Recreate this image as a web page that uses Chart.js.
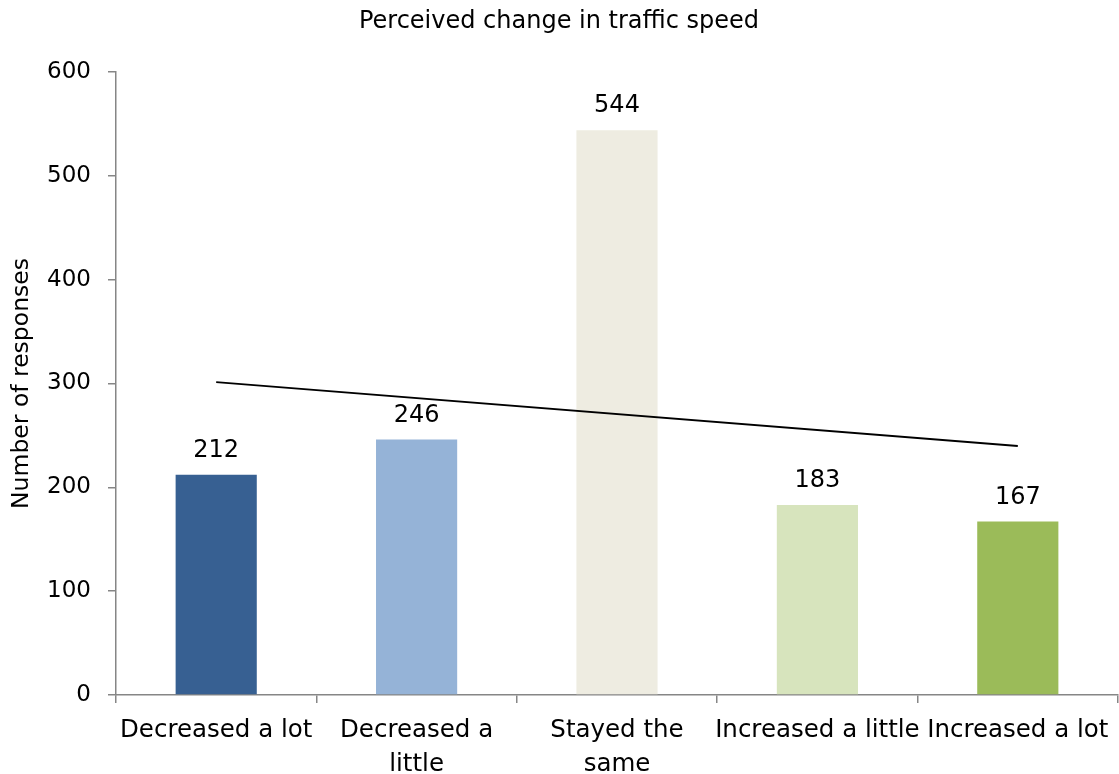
<!DOCTYPE html>
<html>
<head>
<meta charset="utf-8">
<script src="https://cdn.jsdelivr.net/npm/chart.js@4/dist/chart.umd.min.js"></script>
<style>
  html, body { margin: 0; padding: 0; background: #ffffff; }
  #wrap { width: 1119px; height: 774px; }
</style>
</head>
<body>
<div id="wrap"><canvas id="c" width="1119" height="774"></canvas></div>
<script>
const categories = [
  "Decreased a lot",
  ["Decreased a", "little"],
  ["Stayed the", "same"],
  "Increased a little",
  "Increased a lot"
];
const responses = [212, 246, 544, 183, 167];
const barColors = ["#376092", "#95B3D7", "#EEECE1", "#D7E4BD", "#9BBB59"];
// Trend line endpoints (first and last category)
const trendValues = [301.4, null, null, null, 239.8];
const yTicks = [0, 100, 200, 300, 400, 500, 600];

const FONT = "'DejaVu Sans', sans-serif";
const AXIS_GREY = "#868686";

const valueLabels = {
  id: "valueLabels",
  afterDatasetsDraw(chart) {
    const ctx = chart.ctx;
    const meta = chart.getDatasetMeta(0);
    ctx.save();
    ctx.font = "24px " + FONT;
    ctx.fillStyle = "#000000";
    ctx.textAlign = "center";
    ctx.textBaseline = "alphabetic";
    meta.data.forEach((bar, i) => {
      ctx.fillText(String(responses[i]), bar.x, bar.y - 18);
    });
    ctx.restore();
  }
};

new Chart(document.getElementById("c"), {
  data: {
    labels: categories,
    datasets: [
      {
        type: "bar",
        data: responses,
        backgroundColor: barColors,
        borderWidth: 0,
        categoryPercentage: 1.0,
        barPercentage: 0.405,
        order: 2
      },
      {
        type: "line",
        data: trendValues,
        borderColor: "#000000",
        borderWidth: 1.8,
        pointRadius: 0,
        spanGaps: true,
        fill: false,
        order: 1
      }
    ]
  },
  options: {
    responsive: false,
    animation: false,
    events: [],
    layout: { padding: { left: 0, right: 1, top: 0, bottom: 0 } },
    plugins: {
      legend: { display: false },
      tooltip: { enabled: false },
      title: {
        display: true,
        text: "Perceived change in traffic speed",
        color: "#000000",
        font: { family: FONT, size: 24, weight: "normal", lineHeight: 1.2 },
        padding: { top: 7.6, bottom: 35.6 }
      }
    },
    scales: {
      x: {
        type: "category",
        offset: true,
        grid: {
          display: true,
          offset: true,
          drawOnChartArea: false,
          drawTicks: true,
          tickLength: 8,
          color: AXIS_GREY,
          lineWidth: 1.5
        },
        border: { display: true, color: AXIS_GREY, width: 1.5 },
        ticks: {
          color: "#000000",
          font: { family: FONT, size: 24.5, lineHeight: 1.4 },
          padding: 10,
          maxRotation: 0,
          autoSkip: false
        },
        afterFit(scale) { scale.height = 79; }
      },
      y: {
        min: 0,
        max: 600,
        afterBuildTicks(scale) { scale.ticks = yTicks.map(v => ({ value: v })); },
        grid: {
          display: true,
          drawOnChartArea: false,
          drawTicks: true,
          tickLength: 8,
          color: AXIS_GREY,
          lineWidth: 1.5
        },
        border: { display: true, color: AXIS_GREY, width: 1.5 },
        ticks: {
          color: "#000000",
          font: { family: FONT, size: 23 },
          padding: 17
        },
        title: {
          display: true,
          text: "Number of responses",
          color: "#000000",
          font: { family: FONT, size: 23.5, lineHeight: 1.2 },
          padding: { top: 8, bottom: 0 }
        },
        afterFit(scale) { scale.width = 116; }
      }
    }
  },
  plugins: [valueLabels]
});
</script>
</body>
</html>
